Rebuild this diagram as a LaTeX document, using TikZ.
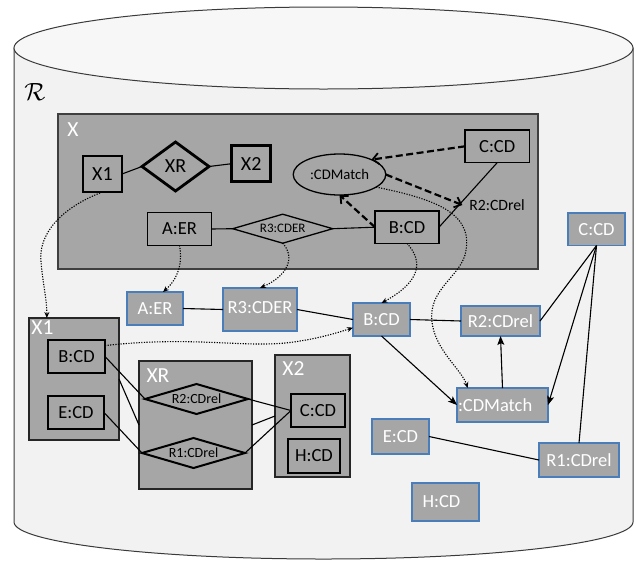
\documentclass[tikz,border=0pt]{standalone}
\usepackage{fontspec}
\setmainfont{Carlito}
\usetikzlibrary{shapes.geometric,arrows.meta}

\definecolor{boxgray}{HTML}{A6A6A6}
\definecolor{cylbody}{HTML}{F2F2F2}
\definecolor{cyltop}{HTML}{F7F7F7}
\definecolor{cylline}{HTML}{3A3A3A}
\definecolor{framegray}{HTML}{3F3F3F}
\definecolor{boxblue}{HTML}{4A7EBB}
\newcommand\fsz[1]{\fontsize{#1}{#1}\selectfont}

\begin{document}
\begin{tikzpicture}[x=1pt,y=-1pt,
  every node/.style={inner sep=0pt, outer sep=0pt},
  sz/.style 2 args={minimum width=#1, minimum height=#2},
  frame/.style={rectangle, draw=framegray, fill=boxgray, line width=1.3pt},
  group/.style={rectangle, draw=black!85, fill=boxgray, line width=1.3pt},
  thinbox/.style={draw=black, fill=boxgray, line width=1.3pt, font=\fsz{18.5}},
  boldbox/.style={draw=black, fill=boxgray, line width=2.8pt, font=\fsz{18.5}},
  reldiamond/.style={diamond, draw=black, fill=boxgray, line width=2pt, shape aspect=3.43, font=\fsz{14}},
  bluebox/.style={rectangle, draw=boxblue, fill=boxgray, line width=1.6pt, text=white, font=\fsz{18.5}},
  cornerlab/.style={text=white, font=\fsz{21.5}},
  link/.style={draw=black, line width=1.1pt},
  flow/.style={link, -{Stealth[length=9pt,width=7pt,inset=2pt]}},
  trace/.style={draw=black, line width=1.1pt, dash pattern=on 1.2pt off 1.4pt, -{Stealth[length=6pt,width=5pt]}},
  hint/.style={draw=black, line width=2.2pt, dash pattern=on 7pt off 3.5pt, -{Straight Barb[length=6pt,width=11pt,line width=1.8pt]}}
]
\useasboundingbox (0,0) rectangle (636,560);

% repository cylinder
\path[draw=cylline, fill=cylbody, line width=1pt]
  (14,48) -- (14,522) .. controls (14,542.4) and (152.6,559) .. (323.5,559)
  .. controls (494.4,559) and (633,542.4) .. (633,522) -- (633,48) -- cycle;
\path[draw=cylline, fill=cyltop, line width=1pt] (323.5,48) ellipse [x radius=309.5, y radius=41];
\node[font=\fsz{23}] (calR) at (35,92) {$\mathcal{R}$};

% model X
\node[frame, sz={480}{155}] (Xframe) at (298,191.5) {};
\node[cornerlab] (Xname) at (73,129.5) {X};
\node[boldbox, sz={39}{36}, font=\fsz{20}] (xone) at (102.5,174) {X1};
\node[diamond, boldbox, shape aspect=1.37, sz={67}{49}, font=\fsz{20}] (xrel) at (175.5,166.5) {XR};
\node[boldbox, sz={39}{36}, font=\fsz{20}] (xtwo) at (251.2,163.7) {X2};
\node[ellipse, thinbox, sz={92.6}{41}, font=\fsz{14.7}] (matchX) at (339.5,174.5) {:CDMatch};
\node[rectangle, thinbox, sz={64.4}{32.6}] (aerX) at (179.5,229) {A:ER};
\node[diamond, thinbox, shape aspect=3.45, sz={100}{29}, font=\fsz{13}] (rthreeX) at (282.7,228.7) {R3:CDER};
\node[rectangle, thinbox, sz={64}{32.3}] (bcdX) at (407,227.2) {B:CD};
\node[rectangle, thinbox, sz={64.3}{32.7}] (ccdX) at (497.2,146.3) {C:CD};
\node[font=\fsz{15.7}, inner sep=7pt] (rtwoX) at (497,205) {R2:CDrel};

% model X1
\node[group, sz={90}{122}] (xoneG) at (74,379) {};
\node[cornerlab] (xoneName) at (42.5,328) {X1};
\node[rectangle, boldbox, sz={57}{33}] (bcdIn) at (76.5,356.5) {B:CD};
\node[rectangle, boldbox, sz={56}{33}] (ecdIn) at (76,412.5) {E:CD};

% model XR
\node[group, sz={113}{128}] (xrG) at (195.5,425) {};
\node[cornerlab] (xrName) at (158,375.5) {XR};
\node[reldiamond, sz={103}{30}] (rtwoIn) at (196.5,399) {R2:CDrel};
\node[reldiamond, sz={103}{30}] (roneIn) at (193.5,453) {R1:CDrel};

% model X2
\node[group, sz={75}{122}] (xtwoG) at (312.5,416) {};
\node[cornerlab] (xtwoName) at (293.5,369) {X2};
\node[rectangle, boldbox, sz={54}{33}] (ccdIn) at (318,410.5) {C:CD};
\node[rectangle, boldbox, sz={52}{34}] (hcdIn) at (314,456) {H:CD};

% repository elements
\node[bluebox, sz={56}{33}] (aerL) at (155,308.5) {A:ER};
\node[bluebox, sz={74}{43}] (rthreeL) at (260,309.5) {\raisebox{4pt}{R3:CDER}};
\node[bluebox, sz={57}{33}] (bcdL) at (381.5,319.5) {B:CD};
\node[bluebox, sz={79}{30}] (rtwoL) at (500.5,321) {R2:CDrel};
\node[bluebox, sz={57}{32.5}] (ccdL) at (596.5,229.3) {C:CD};
\node[bluebox, sz={91}{34}, text width=89pt, align=left] (matchL) at (502.5,405) {:CDMatch};
\node[bluebox, sz={57}{35}] (ecdL) at (400.5,436.5) {E:CD};
\node[bluebox, sz={80}{34}] (roneL) at (579,460) {R1:CDrel};
\node[bluebox, sz={67}{38}] (hcdL) at (445.5,502) {\hspace{-8pt}H:CD};

% links inside X
\draw[link] (xone.east) -- (xrel.west);
\draw[link] (xrel.east) -- (xtwo.west);
\draw[link] (aerX.east) -- (rthreeX.west);
\draw[link] (rthreeX.east) -- (bcdX.west);
\draw[link] (bcdX.east) -- (ccdX.south);
\draw[hint] (ccdX.west) -- (matchX.25);
\draw[hint] (matchX.east) -- (rtwoX.west);
\draw[hint] (bcdX.west) -- (matchX.south);

% links of X1, XR, X2
\draw[link] (bcdIn.east) -- (rtwoIn.west);
\draw[link] (ecdIn.east) -- (roneIn.west);
\draw[link] (xoneG.east) -- (xrG.west);
\draw[link] (rtwoIn.east) -- (ccdIn.west);
\draw[link] (roneIn.east) -- (ccdIn.west);
\draw[link] (xrG.east) -- (xtwoG.west);

% links between repository elements
\draw[link] (aerL.east) -- (rthreeL.west);
\draw[link] (rthreeL.east) -- (bcdL.west);
\draw[link] (bcdL.east) -- (rtwoL.west);
\draw[flow] (bcdL.south) -- (matchL.west);
\draw[flow] (matchL.north) -- (rtwoL.south);
\draw[link] (ccdL.south) -- (rtwoL.east);
\draw[flow] (ccdL.south) -- (matchL.east);
\draw[link] (ccdL.south) -- (roneL.north);
\draw[link] (ecdL.east) -- (roneL.west);

% traces from model elements to repository elements
\draw[trace] (xone.south) .. controls (60,208) and (38,235) .. (41,262)
  .. controls (43,285) and (47,300) .. (xoneG.114);
\draw[trace] (aerX.south) .. controls (182,258) and (181,276) .. (aerL.64);
\draw[trace] (rthreeX.south) .. controls (296,258) and (287,276) .. (rthreeL.north);
\draw[trace] (bcdX.south) .. controls (424,262) and (420,282) .. (bcdL.north);
\draw[trace] (matchX.-19) .. controls (440,200) and (475,215) .. (465,255)
  .. controls (458,278) and (428,290) .. (432,322)
  .. controls (435,350) and (462,370) .. (matchL.154);
\draw[trace] (bcdIn.21) .. controls (200,335) and (250,350) .. (300,341)
  .. controls (320,338) and (340,332) .. (bcdL.196);
\end{tikzpicture}
\end{document}
